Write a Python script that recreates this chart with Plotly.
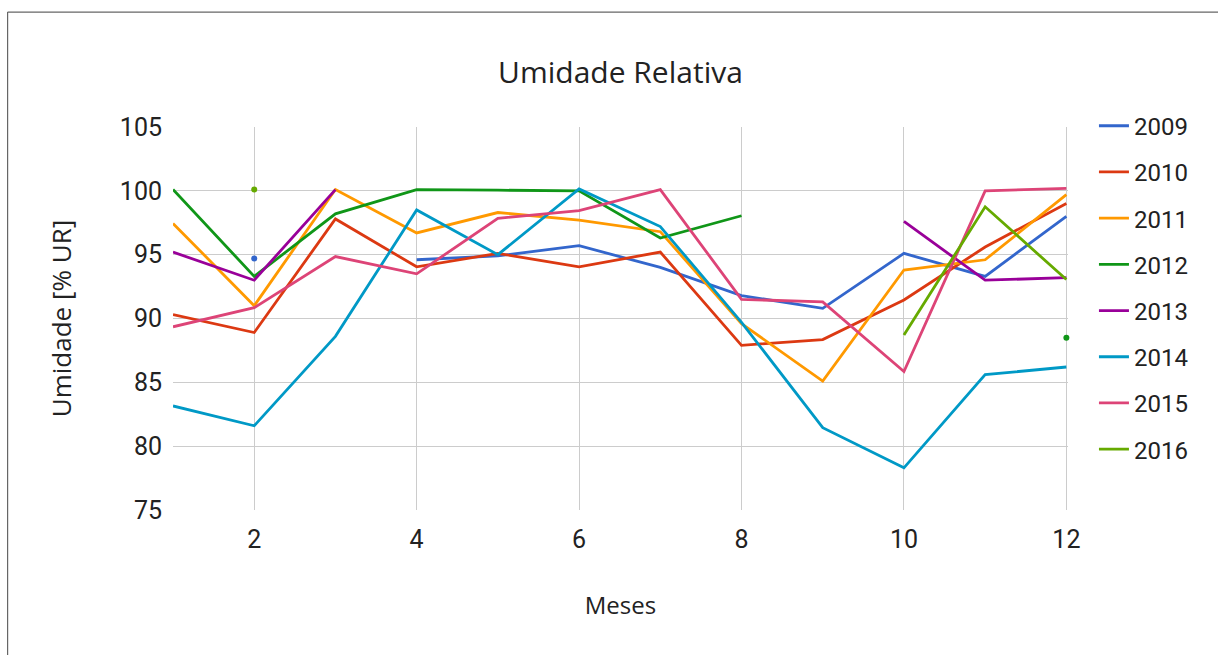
import plotly.graph_objects as go

# Monthly relative humidity (% UR), months 1..12; None = no reading
meses = [1, 2, 3, 4, 5, 6, 7, 8, 9, 10, 11, 12]

ur_2009 = [None, 94.7, None, 94.6, 94.9, 95.7, 94.0, 91.8, 90.8, 95.1, 93.3, 98.0]
ur_2010 = [90.3, 88.9, 97.8, 94.05, 95.1, 94.05, 95.2, 87.9, 88.35, 91.45, 95.6, 99.0]
ur_2011 = [97.45, 91.0, 100.1, 96.7, 98.3, 97.7, 96.8, 89.6, 85.1, 93.8, 94.6, 99.7]
ur_2012 = [100.1, 93.3, 98.2, 100.1, 100.05, 100.0, 96.3, 98.05, None, None, None, 88.5]
ur_2013 = [95.2, 93.0, 100.1, None, None, None, None, None, None, 97.6, 93.0, 93.2]
ur_2014 = [83.15, 81.6, 88.6, 98.5, 95.0, 100.15, 97.2, 89.7, 81.45, 78.3, 85.6, 86.2]
ur_2015 = [89.35, 90.85, 94.85, 93.5, 97.85, 98.45, 100.1, 91.5, 91.3, 85.85, 100.0, 100.2]
ur_2016 = [None, 100.1, None, None, None, None, None, None, None, 88.7, 98.75, 93.05]

anos = ["2009", "2010", "2011", "2012", "2013", "2014", "2015", "2016"]
series = [ur_2009, ur_2010, ur_2011, ur_2012, ur_2013, ur_2014, ur_2015, ur_2016]
cores = ["#3366cc", "#dc3912", "#ff9900", "#109618",
         "#990099", "#0099c6", "#dd4477", "#66aa00"]

fig = go.Figure()

for ano, valores, cor in zip(anos, series, cores):
    fig.add_trace(go.Scatter(
        x=meses, y=valores, mode="lines", name=ano,
        line=dict(color=cor, width=2.8),
        legendgroup=ano, connectgaps=False,
    ))
    # months with no neighbouring reading are shown as single dots
    iso_x, iso_y = [], []
    for i, v in enumerate(valores):
        if v is None:
            continue
        prev_ok = i > 0 and valores[i - 1] is not None
        next_ok = i < len(valores) - 1 and valores[i + 1] is not None
        if not prev_ok and not next_ok:
            iso_x.append(meses[i])
            iso_y.append(v)
    if iso_x:
        fig.add_trace(go.Scatter(
            x=iso_x, y=iso_y, mode="markers", showlegend=False,
            legendgroup=ano, cliponaxis=False,
            marker=dict(color=cor, size=6),
        ))

# outer frame of the chart card
fig.add_shape(type="line", xref="paper", yref="paper",
              x0=-0.1848, x1=1.2, y0=1.3, y1=1.3,
              line=dict(color="#666666", width=1.2))
fig.add_shape(type="line", xref="paper", yref="paper",
              x0=-0.1848, x1=-0.1848, y0=1.3, y1=-0.5,
              line=dict(color="#666666", width=1.2))

fig.update_layout(
    width=1218, height=655,
    margin=dict(l=173, r=150, t=127, b=145),
    paper_bgcolor="white", plot_bgcolor="white",
    title=dict(text="Umidade Relativa", x=0.5, xref="paper",
               y=0.89, yref="container", yanchor="middle",
               font=dict(family="Open Sans", size=30, color="#222222")),
    xaxis=dict(
        range=[1, 12.02], tick0=0, dtick=2, showgrid=True,
        gridcolor="#cccccc", gridwidth=1, zeroline=False,
        ticks="", ticklabelstandoff=12,
        tickfont=dict(family="Roboto", size=25, color="#222222"),
        title=dict(text="Meses", standoff=44,
                   font=dict(family="Open Sans", size=24, color="#222222")),
    ),
    yaxis=dict(
        range=[75, 105], dtick=5, showgrid=True,
        gridcolor="#cccccc", gridwidth=1, zeroline=False,
        ticks="", ticklabelstandoff=10,
        tickfont=dict(family="Roboto", size=25, color="#222222"),
        title=dict(text="Umidade [% UR]", standoff=40,
                   font=dict(family="Open Sans", size=26, color="#222222")),
    ),
    legend=dict(
        x=1.029, xanchor="left", y=1.061, yanchor="top",
        traceorder="grouped", tracegroupgap=12, maxheight=600,
        font=dict(family="Roboto", size=24, color="#222222"),
        bgcolor="rgba(0,0,0,0)",
    ),
)

fig.write_html("out.html")
